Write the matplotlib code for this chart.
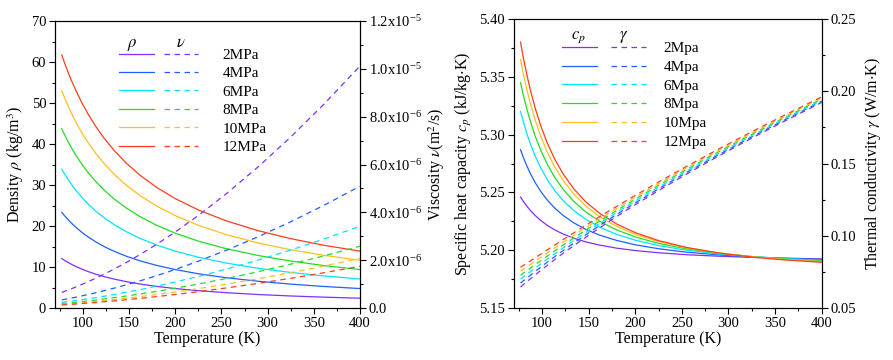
import numpy as np
import matplotlib
matplotlib.use('Agg')
import matplotlib.pyplot as plt
from matplotlib.ticker import MultipleLocator, FuncFormatter
from matplotlib.legend_handler import HandlerTuple

plt.rcParams['font.family'] = 'Liberation Serif'
plt.rcParams['mathtext.fontset'] = 'stix'

# helium at several pressures
temps = [77, 80, 84, 88, 93, 99, 106, 114, 123, 134, 147, 162, 180, 200, 225, 255, 290, 325, 360, 400]
pressures = ['2MPa', '4MPa', '6MPa', '8MPa', '10MPa', '12MPa']
pressures_b = ['2Mpa', '4Mpa', '6Mpa', '8Mpa', '10Mpa', '12Mpa']
colors = ['#7f2fff', '#1f5fff', '#00e5ff', '#22dd22', '#ffbf20', '#ff3d1a']

# density kg/m3
density = [
    [12.073, 11.635, 11.099, 10.610, 10.056, 9.463, 8.854, 8.247, 7.657, 7.041,
     6.430, 5.845, 5.269, 4.749, 4.228, 3.736, 3.289, 2.938, 2.655, 2.391],
    [23.337, 22.518, 21.512, 20.591, 19.547, 18.425, 17.269, 16.113, 14.984, 13.804,
     12.627, 11.496, 10.381, 9.371, 8.355, 7.393, 6.517, 5.827, 5.269, 4.749],
    [33.870, 32.719, 31.301, 30.001, 28.520, 26.925, 25.276, 23.623, 22.003, 20.303,
     18.603, 16.964, 15.343, 13.870, 12.383, 10.972, 9.685, 8.668, 7.844, 7.076],
    [43.741, 42.300, 40.520, 38.884, 37.015, 34.998, 32.905, 30.800, 28.732, 26.554,
     24.370, 22.258, 20.161, 18.250, 16.318, 14.478, 12.795, 11.462, 10.381, 9.371],
    [53.011, 51.316, 49.218, 47.285, 45.071, 42.675, 40.182, 37.667, 35.190, 32.571,
     29.939, 27.385, 24.842, 22.518, 20.161, 17.911, 15.848, 14.211, 12.880, 11.635],
    [61.733, 59.817, 57.438, 55.241, 52.721, 49.984, 47.130, 44.243, 41.391, 38.367,
     35.319, 32.352, 29.390, 26.676, 23.916, 21.274, 18.846, 16.915, 15.343, 13.870],
]
# kinematic viscosity, units of 1e-6 m2/s
viscosity = [
    [0.6537, 0.6962, 0.7544, 0.8145, 0.8923, 0.9894, 1.1077, 1.2497, 1.4173, 1.6337,
     1.9053, 2.2390, 2.6684, 3.1805, 3.8704, 4.7690, 5.9124, 7.1518, 8.4840, 10.1205],
    [0.3382, 0.3597, 0.3892, 0.4197, 0.4591, 0.5082, 0.5680, 0.6396, 0.7242, 0.8334,
     0.9702, 1.1384, 1.3544, 1.6118, 1.9587, 2.4102, 2.9839, 3.6060, 4.2750, 5.0951],
    [0.2330, 0.2476, 0.2675, 0.2881, 0.3146, 0.3477, 0.3880, 0.4363, 0.4932, 0.5666,
     0.6586, 0.7714, 0.9164, 1.0890, 1.3215, 1.6238, 2.0079, 2.4241, 2.8716, 3.4199],
    [0.1804, 0.1915, 0.2066, 0.2223, 0.2424, 0.2675, 0.2981, 0.3346, 0.3777, 0.4332,
     0.5027, 0.5880, 0.6974, 0.8276, 1.0028, 1.2307, 1.5198, 1.8332, 2.1698, 2.5823],
    [0.1489, 0.1578, 0.1701, 0.1828, 0.1991, 0.2194, 0.2441, 0.2736, 0.3084, 0.3532,
     0.4092, 0.4779, 0.5660, 0.6708, 0.8117, 0.9948, 1.2271, 1.4786, 1.7488, 2.0797],
    [0.1278, 0.1354, 0.1458, 0.1564, 0.1702, 0.1873, 0.2081, 0.2329, 0.2622, 0.2998,
     0.3469, 0.4045, 0.4784, 0.5662, 0.6842, 0.8375, 1.0319, 1.2422, 1.4681, 1.7447],
]
# specific heat kJ/kg.K
cp = [
    [5.2460, 5.2423, 5.2378, 5.2340, 5.2298, 5.2255, 5.2213, 5.2174, 5.2139, 5.2104,
     5.2072, 5.2044, 5.2018, 5.1997, 5.1978, 5.1961, 5.1948, 5.1938, 5.1931, 5.1925],
    [5.2870, 5.2803, 5.2725, 5.2656, 5.2581, 5.2505, 5.2431, 5.2362, 5.2299, 5.2237,
     5.2180, 5.2130, 5.2085, 5.2047, 5.2013, 5.1983, 5.1959, 5.1942, 5.1930, 5.1919],
    [5.3200, 5.3110, 5.3003, 5.2910, 5.2809, 5.2706, 5.2606, 5.2513, 5.2427, 5.2344,
     5.2267, 5.2199, 5.2137, 5.2087, 5.2040, 5.2000, 5.1968, 5.1945, 5.1928, 5.1913],
    [5.3450, 5.3342, 5.3214, 5.3102, 5.2981, 5.2858, 5.2738, 5.2626, 5.2523, 5.2423,
     5.2331, 5.2250, 5.2176, 5.2115, 5.2059, 5.2012, 5.1973, 5.1945, 5.1924, 5.1907],
    [5.3650, 5.3527, 5.3383, 5.3256, 5.3119, 5.2979, 5.2843, 5.2716, 5.2600, 5.2486,
     5.2382, 5.2289, 5.2206, 5.2137, 5.2074, 5.2020, 5.1976, 5.1944, 5.1921, 5.1901],
    [5.3800, 5.3666, 5.3509, 5.3371, 5.3221, 5.3069, 5.2921, 5.2782, 5.2656, 5.2532,
     5.2418, 5.2318, 5.2227, 5.2152, 5.2083, 5.2024, 5.1976, 5.1941, 5.1916, 5.1895],
]
# thermal conductivity W/m.K
conductivity = [
    [0.0645, 0.0662, 0.0683, 0.0705, 0.0731, 0.0762, 0.0797, 0.0837, 0.0880, 0.0931,
     0.0990, 0.1056, 0.1133, 0.1215, 0.1313, 0.1427, 0.1554, 0.1676, 0.1793, 0.1923],
    [0.0672, 0.0688, 0.0709, 0.0729, 0.0755, 0.0784, 0.0819, 0.0857, 0.0899, 0.0949,
     0.1007, 0.1072, 0.1147, 0.1227, 0.1325, 0.1438, 0.1563, 0.1685, 0.1801, 0.1931],
    [0.0700, 0.0715, 0.0735, 0.0754, 0.0778, 0.0807, 0.0840, 0.0877, 0.0918, 0.0967,
     0.1023, 0.1087, 0.1161, 0.1240, 0.1337, 0.1448, 0.1573, 0.1693, 0.1810, 0.1938],
    [0.0727, 0.0741, 0.0760, 0.0779, 0.0802, 0.0829, 0.0861, 0.0897, 0.0937, 0.0984,
     0.1040, 0.1102, 0.1175, 0.1253, 0.1349, 0.1459, 0.1583, 0.1702, 0.1818, 0.1946],
    [0.0755, 0.0768, 0.0786, 0.0803, 0.0826, 0.0852, 0.0882, 0.0917, 0.0956, 0.1002,
     0.1056, 0.1117, 0.1189, 0.1266, 0.1360, 0.1470, 0.1592, 0.1711, 0.1826, 0.1953],
    [0.0782, 0.0795, 0.0811, 0.0828, 0.0849, 0.0874, 0.0904, 0.0937, 0.0975, 0.1020,
     0.1073, 0.1133, 0.1203, 0.1279, 0.1372, 0.1480, 0.1602, 0.1720, 0.1834, 0.1961],
]

LW = 0.9
DASH = (0, (4.4, 3.6))
TICK_FS = 10.5
LABEL_FS = 11.5


def sci_fmt(v, pos):
    if abs(v) < 1e-12:
        return '0.0'
    e = int(np.floor(np.log10(abs(v)) + 1e-9))
    m = v / 10**e
    return r'$\mathregular{%.1fx10^{%d}}$' % (m, e)


def style_axes(ax, twin):
    ax.set_xlim(70, 400)
    ax.xaxis.set_major_locator(MultipleLocator(50))
    ax.xaxis.set_minor_locator(MultipleLocator(25))
    ax.tick_params(which='both', direction='out', labelsize=TICK_FS, width=0.8,
                   top=False, right=False, pad=2)
    ax.tick_params(which='major', length=4.5)
    ax.tick_params(which='minor', length=2.5)
    twin.tick_params(which='both', direction='out', labelsize=TICK_FS, width=0.8, pad=2)
    twin.tick_params(which='major', length=4.5)
    twin.tick_params(which='minor', length=2.5)
    for a in (ax, twin):
        for s in a.spines.values():
            s.set_linewidth(0.8)
    ax.set_xlabel('Temperature (K)', fontsize=LABEL_FS, labelpad=1)


fig = plt.figure(figsize=(8.93, 3.6), dpi=100)

# ---- left panel: density and viscosity
ax1 = fig.add_axes([0.0619, 0.1444, 0.3412, 0.7972])
ax2 = ax1.twinx()
solid1, dash1 = [], []
for i, c in enumerate(colors):
    l, = ax1.plot(temps, density[i], color=c, lw=LW)
    d, = ax2.plot(temps, np.array(viscosity[i]) * 1e-6, color=c, lw=LW, ls=DASH)
    solid1.append(l)
    dash1.append(d)
ax1.set_ylim(0, 70)
ax1.yaxis.set_major_locator(MultipleLocator(10))
ax1.yaxis.set_minor_locator(MultipleLocator(5))
ax2.set_ylim(0, 1.2e-5)
ax2.yaxis.set_major_locator(MultipleLocator(2e-6))
ax2.yaxis.set_minor_locator(MultipleLocator(1e-6))
ax2.yaxis.set_major_formatter(FuncFormatter(sci_fmt))
style_axes(ax1, ax2)
ax1.set_ylabel(r'Density $\rho$ (kg/m$^3$)', fontsize=LABEL_FS, labelpad=4)
ax2.set_ylabel(r'Viscosity $\nu$(m$^2$/s)', fontsize=LABEL_FS, labelpad=3)

leg1 = ax1.legend(handles=list(zip(solid1, dash1)), labels=pressures,
                  handler_map={tuple: HandlerTuple(ndivide=None, pad=0.65)},
                  loc='upper left', bbox_to_anchor=(0.209, 0.905), frameon=False,
                  borderpad=0, borderaxespad=0, handlelength=5.2, handletextpad=1.6,
                  labelspacing=0.31, fontsize=11)
ax1.text(0.252, 0.91, r'$\rho$', transform=ax1.transAxes, ha='center', va='baseline', fontsize=12)
ax1.text(0.4125, 0.91, r'$\nu$', transform=ax1.transAxes, ha='center', va='baseline', fontsize=12)

# ---- right panel: specific heat and thermal conductivity
ax3 = fig.add_axes([0.5756, 0.1444, 0.3446, 0.8028])
ax4 = ax3.twinx()
solid2, dash2 = [], []
for i, c in enumerate(colors):
    l, = ax3.plot(temps, cp[i], color=c, lw=LW)
    d, = ax4.plot(temps, conductivity[i], color=c, lw=LW, ls=DASH)
    solid2.append(l)
    dash2.append(d)
ax3.set_ylim(5.15, 5.40)
ax3.yaxis.set_major_locator(MultipleLocator(0.05))
ax3.yaxis.set_minor_locator(MultipleLocator(0.025))
ax3.yaxis.set_major_formatter(FuncFormatter(lambda v, p: '%.2f' % v))
ax4.set_ylim(0.05, 0.25)
ax4.yaxis.set_major_locator(MultipleLocator(0.05))
ax4.yaxis.set_minor_locator(MultipleLocator(0.025))
ax4.yaxis.set_major_formatter(FuncFormatter(lambda v, p: '%.2f' % v))
style_axes(ax3, ax4)
ax3.set_ylabel(r'Specific heat capacity $c_p$ (kJ/kg$\cdot$K)', fontsize=LABEL_FS, labelpad=4)
ax4.set_ylabel(r'Thermal conductivity $\gamma$ (W/m$\cdot$K)', fontsize=LABEL_FS, labelpad=5)

leg2 = ax3.legend(handles=list(zip(solid2, dash2)), labels=pressures_b,
                  handler_map={tuple: HandlerTuple(ndivide=None, pad=0.9)},
                  loc='upper left', bbox_to_anchor=(0.156, 0.922), frameon=False,
                  borderpad=0, borderaxespad=0, handlelength=5.5, handletextpad=1.13,
                  labelspacing=0.33, fontsize=11)
ax3.text(0.208, 0.9325, r'$c_p$', transform=ax3.transAxes, ha='center', va='baseline', fontsize=12)
ax3.text(0.3575, 0.9325, r'$\gamma$', transform=ax3.transAxes, ha='center', va='baseline', fontsize=12)

fig.savefig('out.png', dpi=100)
